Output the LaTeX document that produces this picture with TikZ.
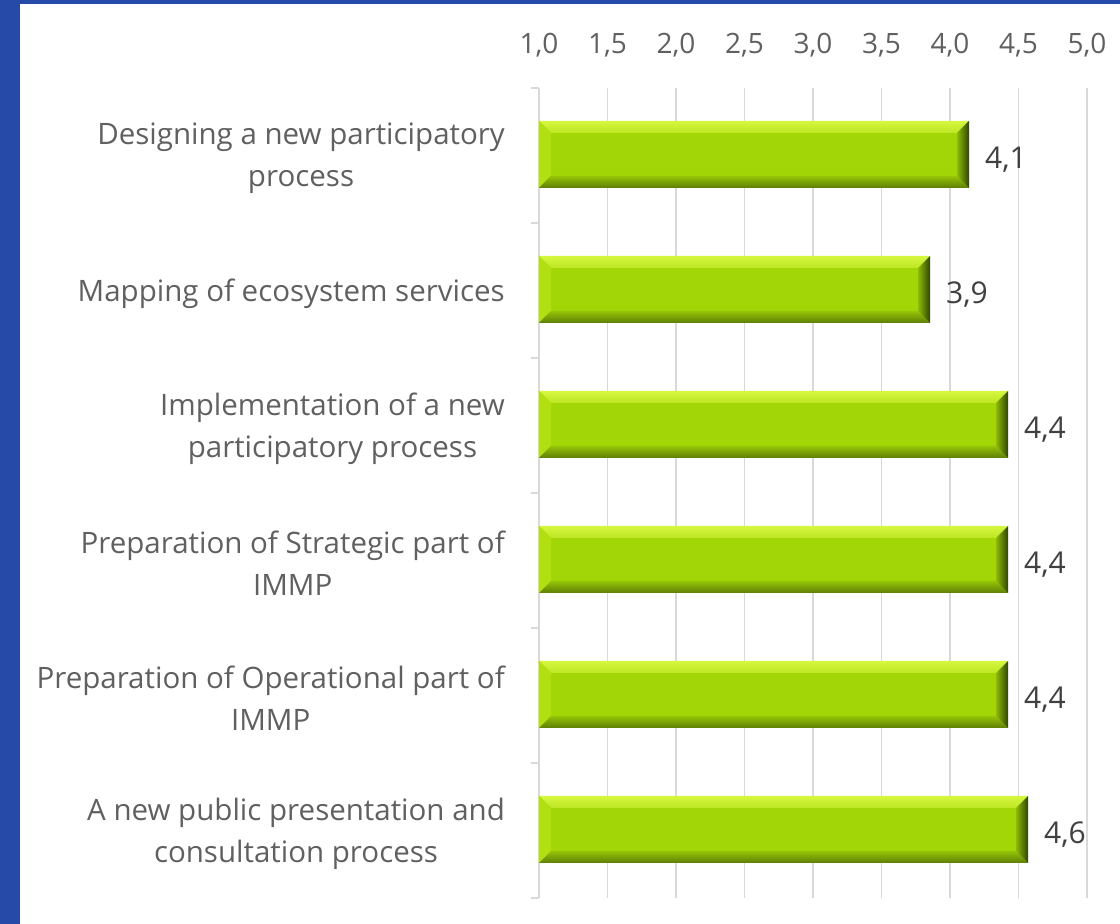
\documentclass[tikz,border=0pt]{standalone}
\usepackage{fontspec}
\setmainfont{Open Sans}
\usetikzlibrary{positioning,calc}

\definecolor{frameblue}{RGB}{38,74,167}
\definecolor{gridgray}{RGB}{217,217,217}
\definecolor{labelgray}{RGB}{96,96,96}
\definecolor{valuegray}{RGB}{64,64,64}
\definecolor{barmain}{RGB}{163,214,7}
\definecolor{barlight}{RGB}{214,247,63}
\definecolor{barmid}{RGB}{189,230,35}
\definecolor{barleft}{RGB}{178,223,18}
\definecolor{bardark}{RGB}{94,125,6}
\definecolor{barshadow}{RGB}{48,70,0}

\begin{document}
\begin{tikzpicture}[x=1pt,y=1pt,
    catlabel/.style={anchor=east,align=center,text=labelgray,inner sep=0pt,yshift=-4pt,
      font=\fontsize{29.5}{42}\selectfont},
    ticklabel/.style={text=labelgray,inner sep=0pt,font=\fontsize{28}{34}\selectfont},
    vallabel/.style={text=valuegray,inner sep=0pt,font=\fontsize{30}{36}\selectfont},
    bar/.style={anchor=west,fill=barmain,minimum height=67pt,inner sep=0pt,outer sep=0pt}]
    \useasboundingbox (0,0) rectangle (1120,924);
    % frame
    \fill[white] (0,0) rectangle (1120,924);
    \fill[frameblue] (0,0) rectangle (20,924);
    \fill[frameblue] (0,920) rectangle (1120,924);
    % grid and axis
    \foreach \k in {1,...,8}
        \draw[gridgray,line width=1.5pt] (539+68.5*\k,836) -- (539+68.5*\k,26);
    \draw[gridgray,line width=1.5pt] (539,836) -- (539,26);
    \foreach \i in {0,...,6}
        \draw[gridgray,line width=1.5pt] (531,836-135*\i) -- (539,836-135*\i);
    \foreach \t [count=\k from 0] in {{1,0},{1,5},{2,0},{2,5},{3,0},{3,5},{4,0},{4,5},{5,0}}
        \node[ticklabel] (tick\k) at (539+68.5*\k,879) {\t};
    % categories
    \node[catlabel] (cat1) at (505,769.5) {Designing a new participatory\\process};
    \node[catlabel] (cat2) at (505,634.5) {Mapping of ecosystem services};
    \node[catlabel] (cat3) at (505,499.5) {Implementation of a new\\participatory process};
    \node[catlabel] (cat4) at (505,364.5) {Preparation of Strategic part of\\IMMP};
    \node[catlabel] (cat5) at (505,229.5) {Preparation of Operational part of\\IMMP};
    \node[catlabel] (cat6) at (505,94.5) {A new public presentation and\\consultation process};
    % bars
    \foreach \w/\v [count=\i] in {430/{4,1},391/{3,9},469/{4,4},469/{4,4},469/{4,4},489/{4,6}} {
        \node[bar,minimum width=\w pt] (bar\i) at (539,904.5-135*\i) {};
        \shade[top color=barlight,bottom color=barmid] (bar\i.north west) -- (bar\i.north east)
            -- ($(bar\i.north east)+(-12,-12)$) -- ($(bar\i.north west)+(12,-12)$) -- cycle;
        \fill[barleft] (bar\i.north west) -- ($(bar\i.north west)+(12,-12)$)
            -- ($(bar\i.south west)+(12,12)$) -- (bar\i.south west) -- cycle;
        \shade[top color=barmain!80!bardark,bottom color=bardark] (bar\i.south west)
            -- ($(bar\i.south west)+(12,12)$) -- ($(bar\i.south east)+(-12,12)$) -- (bar\i.south east) -- cycle;
        \shade[left color=barmain!70!bardark,right color=barshadow] (bar\i.north east)
            -- (bar\i.south east) -- ($(bar\i.south east)+(-12,12)$) -- ($(bar\i.north east)+(-12,-12)$) -- cycle;
        \node[vallabel,anchor=west,right=16pt of bar\i,yshift=-5pt] (val\i) {\v};
    }
\end{tikzpicture}
\end{document}
